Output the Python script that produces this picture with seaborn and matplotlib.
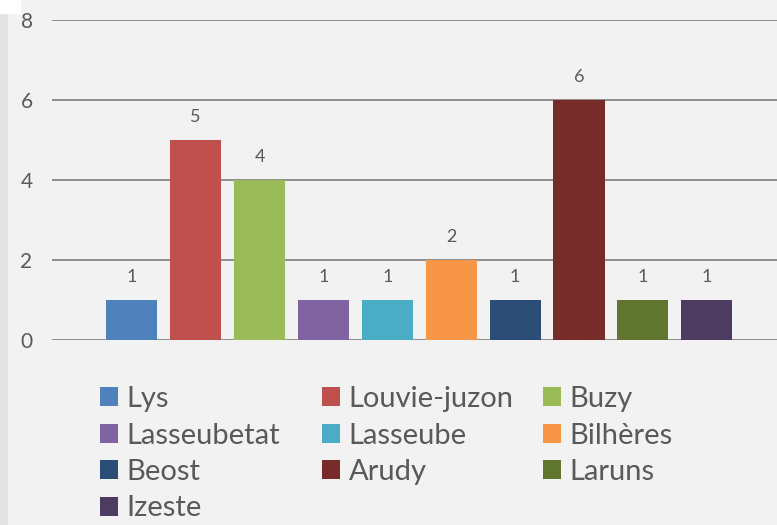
import matplotlib
matplotlib.use("Agg")
import matplotlib.pyplot as plt
import seaborn as sns
import pandas as pd
from matplotlib.patches import Rectangle, Patch

villages = ["Lys", "Louvie-juzon", "Buzy", "Lasseubetat", "Lasseube",
            "Bilhères", "Beost", "Arudy", "Laruns", "Izeste"]
counts = [1, 5, 4, 1, 1, 2, 1, 6, 1, 1]
colors = ["#4F81BD", "#C0504D", "#9BBB59", "#8064A2", "#4BACC6",
          "#F79646", "#2C4D75", "#772C2A", "#5F7530", "#4D3B62"]

df = pd.DataFrame({"village": villages, "n": counts})

sns.set_theme(style="white")
plt.rcParams["font.family"] = ["Lato", "DejaVu Sans"]
txt = "#595959"

fig = plt.figure(figsize=(7.77, 5.25), dpi=100)
fig.patch.set_facecolor("#F2F2F2")
# grey strip on the left edge
fig.patches.append(Rectangle((0, 0), 7 / 777, 512 / 525, transform=fig.transFigure,
                             color="#E4E4E4", zorder=0))
fig.patches.append(Rectangle((0, 512 / 525), 20 / 777, 13 / 525, transform=fig.transFigure,
                             color="white", zorder=0))

ax = fig.add_axes([52 / 777, 185 / 525, 725 / 777, 320 / 525])
ax.set_facecolor("#F2F2F2")

sns.barplot(data=df, x="village", y="n", hue="village", palette=colors,
            order=villages, hue_order=villages, width=0.8, dodge=False,
            legend=False, ax=ax, zorder=3, saturation=1, linewidth=0,
            edgecolor="none")

for c in ax.containers:
    ax.bar_label(c, padding=11, fontsize=13, color=txt)

ax.set_ylim(0, 8)
ax.set_yticks([0, 2, 4, 6, 8])
ax.set_xlim(-1.25, 10.1)
ax.grid(axis="y", color="#868686", linewidth=1.3, zorder=0)
ax.set_xticks([])
ax.set_xlabel("")
ax.set_ylabel("")
for s in ax.spines.values():
    s.set_visible(False)
ax.tick_params(axis="y", length=0, pad=14, labelsize=15, labelcolor=txt)

handles = [Patch(facecolor=c, edgecolor="none") for c in colors]
xs = [100, 322, 543]
for j in range(3):
    fig.legend(handles[j::3], villages[j::3], loc="upper left",
               bbox_to_anchor=(xs[j] / 777, 1 - 386 / 525),
               bbox_transform=fig.transFigure, frameon=False, ncol=1,
               fontsize=21, labelcolor=txt, handlelength=0.62, handleheight=0.62,
               handletextpad=0.3, labelspacing=0.36, borderaxespad=0, borderpad=0)

fig.savefig("out.png", dpi=100, facecolor=fig.get_facecolor())
